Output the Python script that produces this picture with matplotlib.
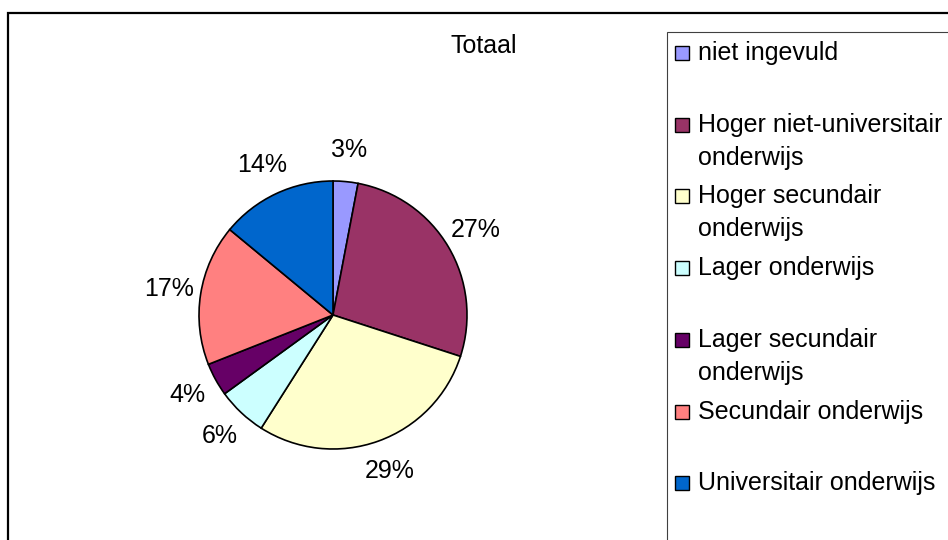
import matplotlib.pyplot as plt
from matplotlib.patches import Rectangle

# data
labels = ['niet ingevuld', 'Hoger niet-universitair\nonderwijs', 'Hoger secundair\nonderwijs',
          'Lager onderwijs', 'Lager secundair\nonderwijs', 'Secundair onderwijs',
          'Universitair onderwijs']
values = [3, 27, 29, 6, 4, 17, 14]
colors = ['#9999FF', '#993366', '#FFFFCC', '#CCFFFF', '#660066', '#FF8080', '#0066CC']
title = 'Totaal'

plt.rcParams['font.family'] = ['Liberation Sans', 'DejaVu Sans']

W, H = 948, 540
fig = plt.figure(figsize=(W / 100, H / 100), dpi=100)
fig.patch.set_facecolor('white')

def fx(px):
    return px / W

def fy(py):
    return 1 - py / H

# outer chart border (runs off right and bottom)
fig.patches.append(Rectangle((fx(8), fy(600)), fx(1000), fy(13) - fy(600),
                             transform=fig.transFigure, fill=False, ec='black', lw=1.6,
                             clip_on=False))

# pie
cx, cy, r = 333, 315, 134
ax = fig.add_axes([fx(cx - r), fy(cy + r), 2 * r / W, 2 * r / H])
ax.pie(values, colors=colors, startangle=90, counterclock=False, radius=1,
       autopct='%1.0f%%', pctdistance=1.24,
       wedgeprops=dict(edgecolor='black', linewidth=1.2),
       textprops=dict(fontsize=18, color='black'))
ax.set_xlim(-1, 1)
ax.set_ylim(-1, 1)
ax.set_aspect('equal')
ax.axis('off')

fig.text(fx(484), fy(53), title, ha='center', va='baseline', fontsize=18)

# legend box (runs off right and bottom)
fig.patches.append(Rectangle((fx(667), fy(600)), fx(400), fy(32) - fy(600),
                             transform=fig.transFigure, fill=False, ec='#404040', lw=0.8,
                             clip_on=False))
for i, (name, col) in enumerate(zip(labels, colors)):
    base = 60 + i * 71.7
    fig.patches.append(Rectangle((fx(675), fy(base)), fx(14), 14 / H,
                                 transform=fig.transFigure, fc=col, ec='black', lw=1.0))
    for j, line in enumerate(name.split('\n')):
        fig.text(fx(698), fy(base + j * 33), line, ha='left', va='baseline', fontsize=18)

fig.savefig('out.png', dpi=100)
